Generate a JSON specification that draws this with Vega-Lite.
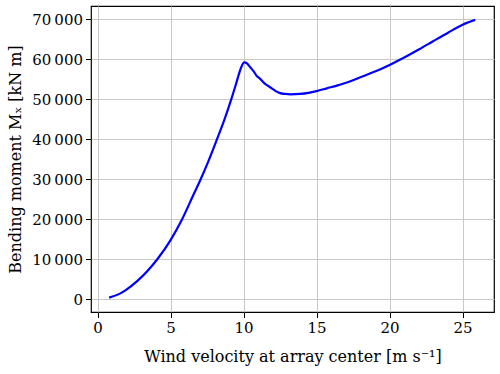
{
  "$schema": "https://vega.github.io/schema/vega-lite/v6.json",
  "autosize": "none",
  "width": 403,
  "height": 306,
  "padding": {"left": 91, "top": 6, "right": 6, "bottom": 62},
  "config": {
    "view": {"stroke": "#000000", "strokeWidth": 1.2},
    "font": "DejaVu Serif",
    "axis": {
      "labelColor": "#000000",
      "titleColor": "#000000",
      "titleFontWeight": "normal",
      "gridColor": "#c8c8c8",
      "gridWidth": 1,
      "domain": false,
      "tickColor": "#000000",
      "tickSize": 5.5,
      "tickWidth": 1,
      "labelPadding": 3
    }
  },
  "data": {
    "values": [
      {"v": 0.79, "m": 420},
      {"v": 1.5, "m": 1350},
      {"v": 1.93, "m": 2300},
      {"v": 2.73, "m": 4600},
      {"v": 3.4, "m": 7000},
      {"v": 4.09, "m": 10000},
      {"v": 5.0, "m": 14800},
      {"v": 5.79, "m": 20000},
      {"v": 6.59, "m": 26300},
      {"v": 7.0, "m": 29500},
      {"v": 7.6, "m": 34600},
      {"v": 8.18, "m": 40000},
      {"v": 8.7, "m": 45000},
      {"v": 9.16, "m": 50000},
      {"v": 9.5, "m": 54000},
      {"v": 9.8, "m": 57600},
      {"v": 10.04, "m": 59200},
      {"v": 10.25, "m": 58900},
      {"v": 10.45, "m": 58000},
      {"v": 10.68, "m": 57000},
      {"v": 10.9, "m": 55800},
      {"v": 11.1, "m": 55200},
      {"v": 11.36, "m": 54200},
      {"v": 11.6, "m": 53500},
      {"v": 11.93, "m": 52700},
      {"v": 12.2, "m": 52000},
      {"v": 12.5, "m": 51500},
      {"v": 12.85, "m": 51300},
      {"v": 13.2, "m": 51200},
      {"v": 13.86, "m": 51300},
      {"v": 14.54, "m": 51650},
      {"v": 15.0, "m": 52000},
      {"v": 15.7, "m": 52700},
      {"v": 16.5, "m": 53500},
      {"v": 17.27, "m": 54400},
      {"v": 18.0, "m": 55500},
      {"v": 19.0, "m": 56900},
      {"v": 20.0, "m": 58550},
      {"v": 21.0, "m": 60400},
      {"v": 22.0, "m": 62400},
      {"v": 22.95, "m": 64400},
      {"v": 24.0, "m": 66600},
      {"v": 25.0, "m": 68600},
      {"v": 25.86, "m": 69800}
    ]
  },
  "mark": {"type": "line", "color": "#0000ff", "strokeWidth": 2.2, "clip": true, "interpolate": "monotone"},
  "encoding": {
    "x": {
      "field": "v",
      "type": "quantitative",
      "scale": {"domain": [-0.45, 27.15], "nice": false, "zero": false},
      "axis": {
        "values": [0, 5, 10, 15, 20, 25],
        "labelFont": "DejaVu Serif",
        "labelFontSize": 15,
        "titleFont": "DejaVu Serif",
        "titleFontSize": 16,
        "title": "Wind velocity at array center [m s⁻¹]",
        "titlePadding": 13
      }
    },
    "y": {
      "field": "m",
      "type": "quantitative",
      "scale": {"domain": [-3175, 73275], "nice": false, "zero": false},
      "axis": {
        "values": [0, 10000, 20000, 30000, 40000, 50000, 60000, 70000],
        "labelExpr": "replace(format(datum.value, ','), ',', '\u2009')",
        "labelFont": "DejaVu Serif",
        "labelFontSize": 15,
        "titleFont": "DejaVu Serif",
        "titleFontSize": 16,
        "title": "Bending moment Mₓ [kN m]",
        "titlePadding": 8
      }
    }
  }
}
